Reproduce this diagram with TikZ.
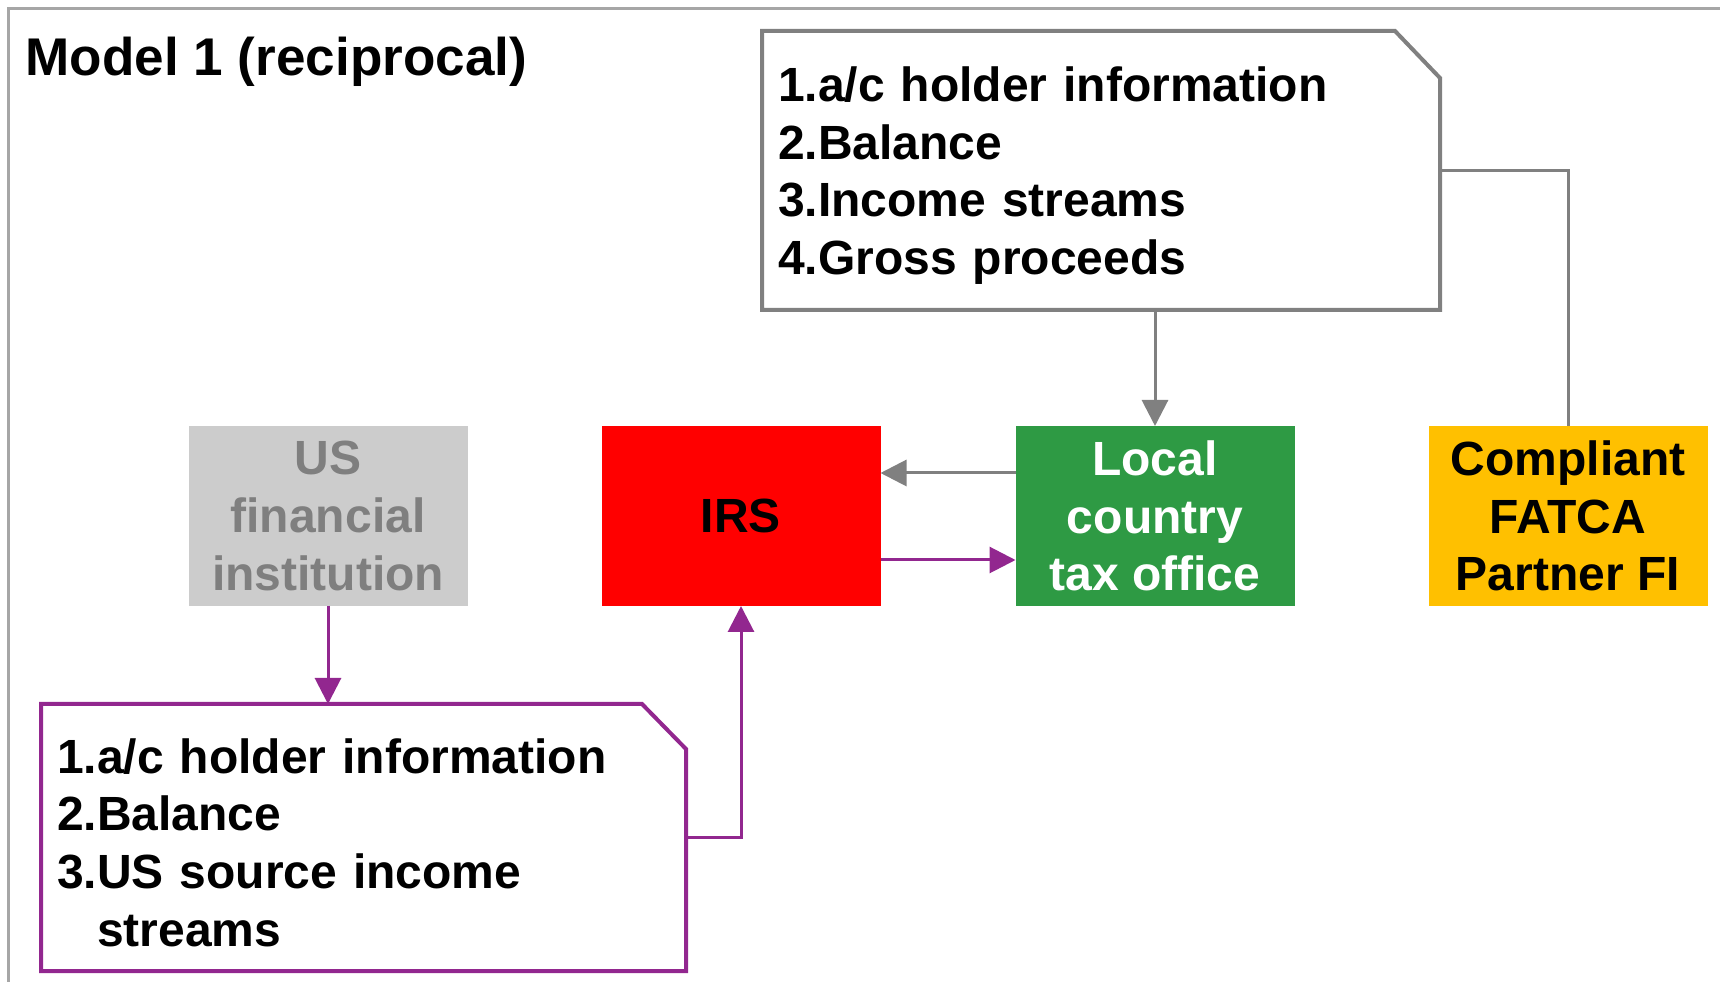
\documentclass[tikz,border=0pt]{standalone}
\usepackage{fontspec}
\setmainfont{Liberation Sans}
\usepackage{xcolor}
\usetikzlibrary{positioning, calc, arrows.meta}

\definecolor{irsred}{RGB}{255,0,0}
\definecolor{taxgreen}{RGB}{46,154,68}
\definecolor{fatcayellow}{RGB}{255,192,0}
\definecolor{fiboxgray}{RGB}{204,204,204}
\definecolor{fitextgray}{RGB}{127,127,127}
\definecolor{flowpurple}{RGB}{146,39,143}
\definecolor{flowgray}{RGB}{128,128,128}
\definecolor{framegray}{RGB}{166,166,166}

\newcommand{\boxfont}{\fontsize{13.66pt}{16.4pt}\selectfont\bfseries}
\newcommand{\titlefont}{\fontsize{15.1pt}{18pt}\selectfont\bfseries}
\newcommand{\firstline}{\rule{0pt}{0.45cm}}

\tikzset{
  party/.style={minimum width=2.79cm, minimum height=1.8cm, inner sep=0pt, outer sep=0pt, align=center, font=\boxfont},
  infonote/.style={anchor=north west, inner xsep=0.16cm, inner ysep=0pt, outer sep=0pt, align=left, font=\boxfont},
  grayflow/.style={draw=flowgray, line width=0.03cm, -{Triangle[length=0.26cm,width=0.26cm]}},
  purpleflow/.style={draw=flowpurple, line width=0.03cm, -{Triangle[length=0.26cm,width=0.26cm]}},
  grayline/.style={draw=flowgray, line width=0.03cm},
}

\begin{document}
\begin{tikzpicture}
      \useasboundingbox (0,0) rectangle (17.2,-9.82);
      \draw[framegray, line width=0.03cm] (0.09,-9.82) -- (0.09,-0.09) -- (17.2,-0.09);%frame
      \node[anchor=base west, inner sep=0pt, font=\titlefont] (title) at (0.25,-0.76) {Model 1 (reciprocal)};

      % the four parties
      \node[party, fill=fiboxgray, text=fitextgray] (usfi) at (3.28,-5.16) {US\\financial\\institution};
      \node[party, fill=irsred, right=1.34cm of usfi] (irs) {IRS};
      \node[party, fill=taxgreen, text=white, right=1.35cm of irs] (local) {Local\\country\\tax office};
      \node[party, fill=fatcayellow, right=1.34cm of local] (partner) {Compliant\\FATCA\\Partner FI};

      % reported data
      \node[infonote, text width=6.46cm, minimum height=2.79cm] (notetop) at (7.62,-0.31) {\firstline1.a/c holder information\\2.Balance\\3.Income streams\\4.Gross proceeds};
      \draw[flowgray, line width=0.04cm] (notetop.north west) -- ($(notetop.north east)+(-0.45,0)$) -- ($(notetop.north east)+(0,-0.47)$) -- (notetop.south east) -- (notetop.south west) -- cycle;
      \node[infonote, text width=6.13cm, minimum height=2.67cm] (notebot) at (0.41,-7.04) {\firstline1.a/c holder information\\2.Balance\\3.US source income\\\hphantom{3.}streams};
      \draw[flowpurple, line width=0.04cm] (notebot.north west) -- ($(notebot.north east)+(-0.44,0)$) -- ($(notebot.north east)+(0,-0.45)$) -- (notebot.south east) -- (notebot.south west) -- cycle;

      % flows
      \draw[grayline] (notetop.east) -| (partner.north);
      \draw[grayflow] (notetop.south -| local.north) -- (local.north);
      \draw[grayflow] ([yshift=0.43cm]local.west) -- ([yshift=0.43cm]irs.east);
      \draw[purpleflow] ([yshift=-0.44cm]irs.east) -- ([yshift=-0.44cm]local.west);
      \draw[purpleflow] (usfi.south) -- (usfi.south |- notebot.north);
      \draw[purpleflow] (notebot.east) -| (irs.south);
\end{tikzpicture}
\end{document}
